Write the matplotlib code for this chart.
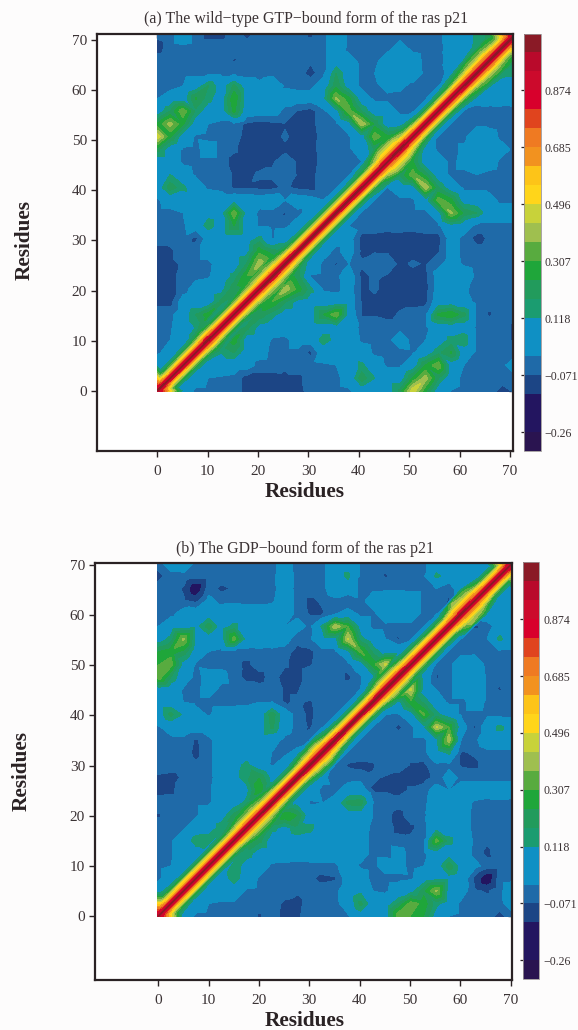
import numpy as np
import matplotlib
matplotlib.use("Agg")
import matplotlib.pyplot as plt
import matplotlib.tri as mtri

W, H = 578, 1030
plt.rcParams['font.family'] = ['Liberation Serif', 'DejaVu Serif']
TXT = '#3a3234'
DARK = '#2a2224'

titles = ["(a) The wild\u2212type GTP\u2212bound form of the ras p21",
          "(b) The GDP\u2212bound form of the ras p21"]
axis_name = "Residues"
ticks = [0, 10, 20, 30, 40, 50, 60, 70]
cbar_ticks = [-0.26, -0.071, 0.118, 0.307, 0.496, 0.685, 0.874]
cbar_labels = ["\u22120.26", "\u22120.071", "0.118", "0.307", "0.496", "0.685", "0.874"]
levels = [-0.323 + 0.063 * k for k in range(23)]
colors = ['#2a1450', '#231560', '#231560', '#1c4585', '#1f6aa8', '#0f90c4', '#0f90c4',
          '#1b9c70', '#229b5c', '#1fa63a', '#58ab3f', '#9fbf4f', '#c8d23a', '#ffd51a',
          '#fdc418', '#f2921f', '#ef7a22', '#e0441e', '#d8002c', '#cc0a2c', '#b90a2b', '#8a1a26']

# Off-diagonal correlation x100, rows from the top (y = 70) down, columns from x = 0, every 2.5 residues
rows_a = [
 [-6,-4,5,-4,-9,-9,-4,-9,-4,-4,-3,-4,-8,-3,6,-3,-4,-4,-3,-3,-4,-3,-3,3,6,14,20],
 [-10,-4,-3,-4,-4,-4,-3,-4,-3,-3,-4,-4,-4,-3,6,-3,-6,-4,-3,2,-3,-4,-3,2,7,14],
 [-4,-3,-4,-4,-4,-3,-8,-4,-3,-3,-4,-4,-6,-3,5,2,-3,-3,3,6,3,-3,-4,3,12],
 [-4,-3,-3,-3,-3,-3,-3,-4,-4,-3,-4,-4,-10,-3,18,5,-3,-1,6,6,6,-3,-7,5],
 [-3,-3,-1,5,18,6,20,5,1,5,-2,-3,-3,4,22,6,-3,-3,2,1,-3,-3,-3],
 [-1,3,5,25,14,6,30,6,3,4,3,3,3,8,38,26,5,-3,-3,-3,-3,-3],
 [5,18,36,16,6,5,26,5,3,3,-3,-8,-10,-3,6,34,18,5,5,-3,-3],
 [25,40,25,5,-1,-3,-3,-9,-10,-9,-8,-10,-10,-3,-3,6,42,22,5,6],
 [48,25,5,-2,-3,-3,-4,-10,-11,-10,-6,-10,-11,-4,-3,-2,6,35,25],
 [20,5,-2,-3,3,-3,-6,-10,-11,-10,-9,-10,-10,-4,-3,-2,3,18],
 [6,5,-2,-3,-3,-3,-10,-11,-10,-8,-3,-8,-11,-4,-3,-3,-1],
 [5,12,3,-2,-3,-3,-8,-9,-6,-6,-2,-8,-10,-3,-3,-2],
 [5,22,14,3,-2,-3,-8,-8,-9,-9,-6,-9,-10,-3,-3],
 [-2,3,4,6,5,4,6,5,3,5,-1,4,3,-1],
 [-3,-3,-1,5,8,6,36,6,-3,-3,-8,-3,3],
 [-3,-4,-2,4,16,6,24,5,-2,-3,-3,3],
 [-4,-4,-3,-9,3,5,6,5,14,-2,6],
 [-10,-9,-3,-3,3,5,6,8,28,20],
 [-10,-9,-6,-3,-3,4,6,18,42],
 [-10,-10,-4,-3,-2,5,14,30],
 [-10,-10,-4,3,5,8,22],
 [-10,-10,3,5,5,20],
 [-3,-3,4,18,28],
 [-3,-2,5,12],
 [-3,-1,6],
 [-3,5],
 [8],
]
rows_b = [
 [-3,3,5,-3,-4,-3,-3,-4,-3,-3,3,-3,-6,-3,5,6,-3,-4,-3,-3,-3,-2,4,5,-1,5,8],
 [-10,-3,-3,-4,-4,-3,-3,-4,-3,-3,4,-3,-4,-3,5,14,-3,-4,-8,-5,-3,-2,14,6,-1,6],
 [-3,-4,-8,-20,-4,-9,-6,-3,-3,-3,3,-3,-3,-3,5,5,-3,-2,-2,-2,-3,-3,-1,-7,8],
 [-3,-3,-6,-9,2,-3,-2,-3,-3,-2,4,-3,-9,-6,-3,-8,-3,3,6,6,5,-3,-4,-8],
 [-3,-3,3,5,6,5,5,4,4,4,4,-3,-8,-8,-2,4,-3,-3,5,4,4,-3,-3],
 [-1,5,6,8,22,6,14,6,5,3,-1,3,-3,14,42,30,6,-3,-3,-3,-3,-3],
 [6,14,38,8,5,6,34,6,3,5,3,-5,-2,6,8,44,14,5,-1,-8,-3],
 [24,28,22,5,-1,-3,-3,-3,-2,-3,-4,-10,-9,-3,-3,8,32,16,6,6],
 [30,34,8,-2,-3,-3,-5,-9,-3,-3,-6,-10,-8,-3,-3,-3,6,28,45],
 [36,18,4,-3,2,2,-4,-10,-10,-4,-10,-10,-3,-3,-3,-9,-2,8],
 [6,5,-2,-3,3,-3,-3,-3,-5,-3,-8,-8,-3,-3,-2,-3,-1],
 [5,5,-1,-3,-3,-3,-3,-3,-1,-1,-8,-6,-8,-3,-3,-2],
 [6,20,10,3,-2,3,3,4,5,22,5,-4,-9,-3,-3],
 [-2,3,5,4,5,6,6,5,5,20,4,-4,-8,-2],
 [-3,-3,-3,-8,-3,5,6,6,5,3,-3,-6,-3],
 [-3,-3,-4,-9,-3,5,6,6,5,-1,-3,2],
 [-2,-3,-3,-6,-3,4,8,14,4,-2,4],
 [-9,-10,-6,-3,-3,3,8,16,24,8],
 [-10,-9,-3,-2,-2,3,6,8,30],
 [-3,-3,-3,-2,-2,4,6,14],
 [-8,-4,-3,-2,4,6,20],
 [-3,-3,-2,5,5,16],
 [-3,-2,5,16,18],
 [-3,-2,5,6],
 [-3,-1,5],
 [-3,5],
 [5],
]
# Values across the main ridge along the diagonal (0 to 70, every 2.5 residues), for |y - x| = 0..4
ridge_offsets = [0, 1, 2, 3, 4]
ridge_a = [
 [1.0,1.0,1.0,1.0,1.02,1.0,1.0,1.0,1.0,1.02,1.0,1.0,1.0,1.0,1.0,1.0,1.0,1.0,1.0,1.02,1.0,1.0,1.0,1.0,1.0,1.02,1.02,1.0,1.0],
 [.62,.62,.64,.66,.70,.66,.64,.64,.66,.68,.66,.64,.64,.64,.64,.64,.66,.66,.70,.72,.68,.66,.66,.68,.70,.72,.72,.70,.64],
 [.39,.39,.42,.42,.47,.43,.43,.45,.47,.49,.47,.43,.42,.42,.42,.42,.43,.45,.54,.54,.47,.43,.43,.45,.49,.53,.55,.49,.39],
 [.14,.16,.18,.20,.28,.22,.20,.28,.34,.36,.30,.20,.18,.16,.16,.16,.18,.24,.46,.46,.28,.18,.18,.22,.30,.38,.40,.34,.24],
 [.03,.05,.07,.09,.19,.11,.13,.21,.27,.29,.21,.10,.07,.07,.06,.07,.09,.17,.33,.31,.15,.07,.07,.11,.21,.29,.31,.25,.19],
]
ridge_b = [
 [1.0,1.0,1.0,1.0,1.0,1.0,1.0,1.0,1.0,1.0,1.0,1.0,1.0,1.02,1.0,1.0,1.0,1.0,1.02,1.0,1.0,1.0,1.0,1.0,1.02,1.0,1.0,1.0,1.0],
 [.64,.64,.66,.66,.66,.66,.66,.68,.68,.66,.66,.66,.68,.70,.66,.64,.64,.66,.70,.70,.66,.66,.66,.66,.70,.70,.66,.66,.66],
 [.45,.45,.47,.47,.45,.45,.45,.49,.49,.47,.45,.45,.49,.53,.47,.43,.43,.45,.51,.51,.47,.47,.45,.47,.55,.55,.47,.45,.47],
 [.20,.24,.20,.20,.18,.20,.24,.34,.36,.30,.22,.22,.34,.38,.22,.16,.16,.20,.36,.34,.24,.22,.20,.22,.42,.40,.24,.20,.22],
 [.07,.13,.07,.07,.06,.08,.15,.25,.27,.21,.09,.09,.17,.21,.09,.05,.05,.07,.21,.19,.11,.09,.07,.09,.37,.31,.09,.07,.09],
]
extent_a, extent_b = 71.0, 70.3


def build_nodes(rows, ridge, extent):
    step = extent / 28
    xs, ys, zs = [], [], []
    for j, row in enumerate(rows):
        y = (28 - j) * step
        for i, v in enumerate(row):
            x = i * step
            xs += [x, y]; ys += [y, x]; zs += [v / 100, v / 100]
    for off, line in zip(ridge_offsets, ridge):
        for i, v in enumerate(line):
            x, y = i * step - off / 2, i * step + off / 2
            if x < 0 or y > extent:
                continue
            if off == 0:
                xs.append(x); ys.append(y); zs.append(v)
            else:
                xs += [x, y]; ys += [y, x]; zs += [v, v]
    return np.array(xs), np.array(ys), np.array(zs)


def px_axes(fig, l, r, t, b):
    return fig.add_axes([l / W, 1 - b / H, (r - l) / W, (b - t) / H])


def panel(fig, rows, ridge, extent, box, lims, cbox, title, title_xy, xl_xy, yl_xy):
    ax = px_axes(fig, *box)
    xs, ys, zs = build_nodes(rows, ridge, extent)
    tri = mtri.Triangulation(xs, ys)
    cs = ax.tricontourf(tri, zs, levels=levels, colors=colors)
    cs.set_edgecolor('face')
    cs.set_linewidth(0.25)
    ax.set_xlim(lims[0], lims[1])
    ax.set_ylim(lims[2], lims[3])
    ax.set_xticks(ticks)
    ax.set_yticks(ticks)
    ax.tick_params(direction='out', length=4, width=1.0, color=DARK, labelcolor=TXT,
                   labelsize=11, pad=3)
    ax.tick_params(axis='x', pad=6)
    for s in ax.spines.values():
        s.set_linewidth(1.6)
        s.set_color(DARK)
    top = ax.secondary_xaxis('top')
    top.set_xticks(ticks)
    top.tick_params(direction='in', length=3, width=1.0, color=DARK, labeltop=False)
    right = ax.secondary_yaxis('right')
    right.set_yticks(ticks)
    right.tick_params(direction='in', length=3, width=1.0, color=DARK, labelright=False)
    top.spines['top'].set_visible(False)
    right.spines['right'].set_visible(False)

    cax = px_axes(fig, *cbox)
    cb = fig.colorbar(cs, cax=cax, ticks=cbar_ticks, drawedges=False)
    cb.set_ticklabels(cbar_labels)
    cb.outline.set_edgecolor('#9a9596')
    cb.outline.set_linewidth(0.6)
    cax.yaxis.set_ticks_position('left')
    cax.tick_params(axis='y', length=2.5, width=0.9, color=DARK, labelcolor=TXT, labelsize=8.6,
                    labelleft=False, labelright=True, pad=0.3, direction='out')
    cax.minorticks_off()

    fig.text(title_xy[0] / W, 1 - title_xy[1] / H, title, ha='center', va='center',
             fontsize=11.4, color=TXT)
    fig.text(xl_xy[0] / W, 1 - xl_xy[1] / H, axis_name, ha='center', va='center',
             fontsize=15.3, fontweight='bold', color=DARK)
    fig.text(yl_xy[0] / W, 1 - yl_xy[1] / H, axis_name, ha='center', va='center', rotation=90,
             fontsize=15.3, fontweight='bold', color=DARK)


fig = plt.figure(figsize=(W / 100, H / 100), dpi=100, facecolor='#fdfcfc')
panel(fig, rows_a, ridge_a, extent_a, (96.6, 513, 34, 451), (-12.06, 70.6, -12.0, 71.2),
      (524, 541, 33.5, 451), titles[0], (306, 19), (305, 492), (25, 240))
panel(fig, rows_b, ridge_b, extent_b, (94.7, 512.3, 563.3, 980), (-12.6, 70.3, -12.7, 70.3),
      (522.7, 539.3, 562.3, 979.3), titles[1], (305, 549), (305, 1021), (22, 771))
fig.savefig('out.png', dpi=100, facecolor=fig.get_facecolor())
